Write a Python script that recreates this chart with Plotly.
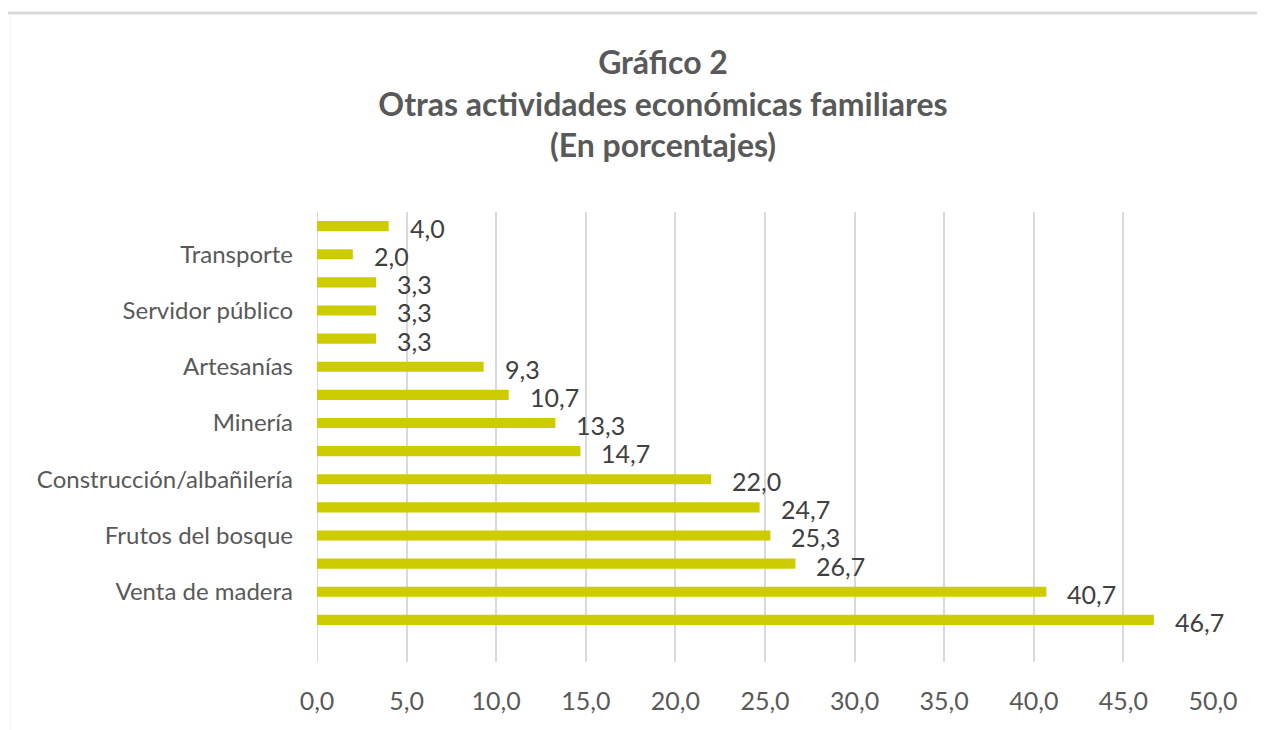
import plotly.graph_objects as go

# Data (bottom to top)
values = [46.7, 40.7, 26.7, 25.3, 24.7, 22.0, 14.7, 13.3, 10.7, 9.3, 3.3, 3.3, 3.3, 2.0, 4.0]
tick_labels = ["", "Venta de madera", "Frutos del bosque", "Construcción/albañilería",
               "Minería", "Artesanías", "Servidor público", "Transporte"]
x_ticks = [0, 5, 10, 15, 20, 25, 30, 35, 40, 45, 50]

positions = list(range(1, len(values) + 1))
tick_positions = list(range(0, len(values) + 1, 2))

FONT = "Lato, Open Sans, sans-serif"
W, H = 1265, 730
L, R, T, B = 309, 60, 204, 76
pw, ph = W - L - R, H - T - B

fig = go.Figure()
fig.add_trace(go.Bar(
    x=values, y=positions, orientation="h",
    marker=dict(color="#CCCC00", line=dict(width=0)),
    width=0.36, hoverinfo="x",
))

for v, p in zip(values, positions):
    fig.add_annotation(
        x=v, y=p, text=f"{v:.1f}".replace(".", ","), showarrow=False,
        xanchor="left", yanchor="middle", xshift=19, yshift=-2,
        font=dict(size=25, color="#404040", family=FONT),
    )

def px_to_paper_x(px):
    return (px - L) / pw

def px_to_paper_y(py):
    return (H - B - py) / ph

fig.add_shape(type="line", xref="paper", yref="paper",
              x0=px_to_paper_x(-4), x1=px_to_paper_x(1265),
              y0=px_to_paper_y(5), y1=px_to_paper_y(5),
              line=dict(color="#D9D9D9", width=3))
fig.add_shape(type="line", xref="paper", yref="paper",
              x0=px_to_paper_x(2), x1=px_to_paper_x(2),
              y0=px_to_paper_y(6), y1=px_to_paper_y(730),
              line=dict(color="#F2F2F2", width=1))

fig.update_layout(
    width=W, height=H,
    margin=dict(l=L, r=R, t=T, b=B),
    paper_bgcolor="white", plot_bgcolor="white",
    separators=",.",
    showlegend=False,
    title=dict(
        text="Gráfico 2<br>Otras actividades económicas familiares<br>(En porcentajes)",
        x=655 / W, xref="container", xanchor="center",
        y=1 - 66 / H, yref="container", yanchor="middle",
        font=dict(size=32, color="#595959", family=FONT, weight="bold"),
    ),
    xaxis=dict(
        range=[0, 50], tickvals=x_ticks, tickformat=".1f",
        showgrid=True, gridcolor="#D9D9D9", gridwidth=2,
        zeroline=False, showline=False, ticks="",
        tickfont=dict(size=25, color="#595959", family=FONT),
        ticklabelstandoff=22, fixedrange=True,
    ),
    yaxis=dict(
        range=[-0.5, len(values) + 0.5],
        tickmode="array", tickvals=tick_positions, ticktext=tick_labels,
        showgrid=False, zeroline=False, showline=False, ticks="",
        tickfont=dict(size=24, color="#595959", family=FONT),
        ticklabelstandoff=23, fixedrange=True,
    ),
)

fig.add_shape(type="line", xref="x", yref="paper", x0=0, x1=0, y0=0, y1=1,
              line=dict(color="#D9D9D9", width=2), layer="below")

fig.write_html("out.html")
